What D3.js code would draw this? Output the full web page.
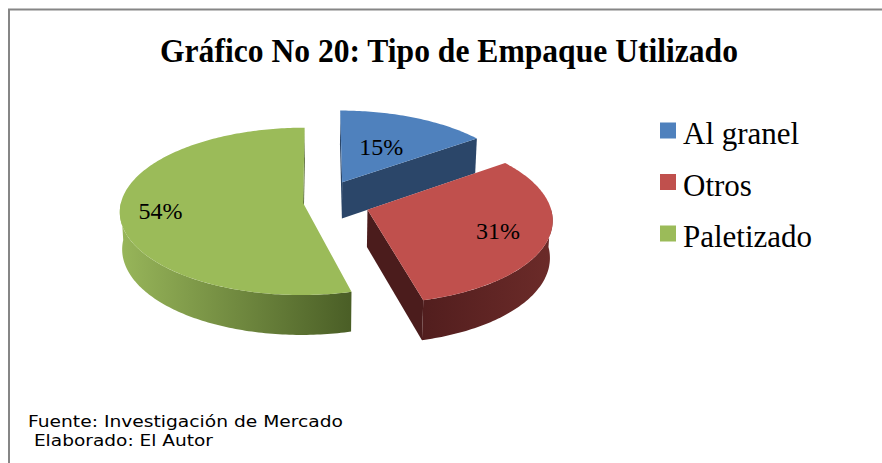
<!DOCTYPE html>
<html lang="es">
<head>
<meta charset="UTF-8">
<title>Gráfico No 20: Tipo de Empaque Utilizado</title>
<script src="https://d3js.org/d3.v7.min.js"></script>
<style>
  body { margin: 0; background: #fff; }
  svg { display: block; }
</style>
</head>
<body>
<div id="chart"></div>
<script>
// data
const categories = ["Al granel", "Otros", "Paletizado"];
const values = [15, 31, 54];
const pctLabels = ["15%", "31%", "54%"];
const sourceLines = ["Fuente: Investigación de Mercado", " Elaborado: El Autor"];

// styles
const topColors = ["#4f81bd", "#c0504d", "#9bbb59"];
const cutColors = ["#2b4669", "#4b1c1c", "#4b5f27"];
const sideStops = [["#2b4669", "#2b4669"], ["#521e1e", "#6c2b29"], ["#98b65a", "#4a5e26"]];
const explode = [50, 50, 17];
const labelRadius = [0.52, 0.73, 0.78];

const W = 882, Hh = 463;
const R = 182, depthH = 42;
const tilt = 27 * Math.PI / 180, sinT = Math.sin(tilt), cosT = Math.cos(tilt);
const D = 1620;
const cx = 320, cy = 202;

const svg = d3.select("#chart").append("svg")
    .attr("width", W).attr("height", Hh);

// border (chart area is cropped at right and bottom)
svg.append("path")
    .attr("d", `M9,${Hh + 5}V9.5H${W + 5}`)
    .attr("fill", "none").attr("stroke", "#868686").attr("stroke-width", 2);

svg.append("text")
    .attr("x", 449).attr("y", 62)
    .attr("text-anchor", "middle")
    .attr("textLength", 578).attr("lengthAdjust", "spacingAndGlyphs")
    .style("font-family", "'Liberation Serif', 'Times New Roman', serif")
    .style("font-weight", "bold").style("font-size", "34px")
    .text("Gráfico No 20: Tipo de Empaque Utilizado");

function project(x, y, z) {
    const dep = z * cosT - y * sinT;
    const s = D / (D + dep);
    return [cx + x * s, cy - (z * sinT + y * cosT) * s];
}
const cam = [0, D * sinT, -D * cosT];

const slices = d3.pie().sort(null).value(d => d)(values).map((d, i) => {
    const mid = (d.startAngle + d.endAngle) / 2;
    return {...d, i, mid, ox: explode[i] * Math.sin(mid), oz: explode[i] * Math.cos(mid)};
});

function pt(s, r, a, y) {
    return project(s.ox + r * Math.sin(a), y, s.oz + r * Math.cos(a));
}
function arcPts(s, a0, a1, y) {
    const n = Math.max(2, Math.ceil(Math.abs(a1 - a0) / (Math.PI / 180)));
    return d3.range(n + 1).map(k => pt(s, R, a0 + (a1 - a0) * k / n, y));
}
const closed = d3.line().curve(d3.curveLinearClosed);

const defs = svg.append("defs");
const gPie = svg.append("g");

// draw far slices first
const order = slices.slice().sort((a, b) => b.oz - a.oz);

order.forEach(s => {
    const g = gPie.append("g");
    // cut faces
    [[s.startAngle, -1], [s.endAngle, 1]].forEach(([a, sign]) => {
        const n = [sign * Math.cos(a), 0, -sign * Math.sin(a)];
        const px = s.ox + R * 0.5 * Math.sin(a), pz = s.oz + R * 0.5 * Math.cos(a);
        const dot = n[0] * (cam[0] - px) + n[1] * cam[1] + n[2] * (cam[2] - pz);
        if (dot <= 1) return;
        g.append("path")
            .attr("d", closed([pt(s, 0, a, 0), pt(s, R, a, 0), pt(s, R, a, -depthH), pt(s, 0, a, -depthH)]))
            .attr("fill", cutColors[s.i]);
    });
    // outer side, front half only
    const a0 = Math.max(s.startAngle, Math.PI / 2), a1 = Math.min(s.endAngle, 3 * Math.PI / 2);
    if (a1 > a0) {
        const topArc = arcPts(s, a0, a1, 0);
        const botArc = arcPts(s, a1, a0, -depthH);
        const xs = topArc.map(p => p[0]);
        const gid = "side" + s.i;
        const grad = defs.append("linearGradient").attr("id", gid)
            .attr("gradientUnits", "userSpaceOnUse")
            .attr("x1", d3.min(xs)).attr("x2", d3.max(xs)).attr("y1", 0).attr("y2", 0);
        grad.append("stop").attr("offset", "0%").attr("stop-color", sideStops[s.i][0]);
        grad.append("stop").attr("offset", "100%").attr("stop-color", sideStops[s.i][1]);
        g.append("path")
            .attr("d", closed(topArc.concat(botArc)))
            .attr("fill", `url(#${gid})`);
    }
    // top face
    g.append("path")
        .attr("d", closed([pt(s, 0, 0, 0)].concat(arcPts(s, s.startAngle, s.endAngle, 0))))
        .attr("fill", topColors[s.i]);
});

// value labels
svg.append("g").selectAll("text")
    .data(slices).join("text")
    .attr("transform", d => {
        const p = pt(d, R * labelRadius[d.i], d.mid, 0);
        return `translate(${p[0]},${p[1]})`;
    })
    .attr("text-anchor", "middle").attr("dy", "0.33em")
    .style("font-family", "'Liberation Serif', 'Times New Roman', serif")
    .style("font-size", "24px")
    .text(d => pctLabels[d.i]);

// legend
const legend = svg.append("g").selectAll("g")
    .data(categories).join("g")
    .attr("transform", (d, i) => `translate(660,${130.5 + i * 51.5})`);
legend.append("rect")
    .attr("x", 0).attr("y", -8).attr("width", 16).attr("height", 16)
    .attr("fill", (d, i) => topColors[i]);
legend.append("text")
    .attr("x", 23).attr("y", 13.5)
    .style("font-family", "'Liberation Serif', 'Times New Roman', serif")
    .style("font-size", "31px")
    .text(d => d);

// source notes
svg.append("g").selectAll("text")
    .data(sourceLines).join("text")
    .attr("x", 28).attr("y", (d, i) => 427 + i * 19)
    .attr("xml:space", "preserve")
    .attr("textLength", (d, i) => [315, 185][i]).attr("lengthAdjust", "spacingAndGlyphs")
    .style("font-family", "'DejaVu Sans', Verdana, sans-serif")
    .style("font-size", "15px")
    .text(d => d);
</script>
</body>
</html>
